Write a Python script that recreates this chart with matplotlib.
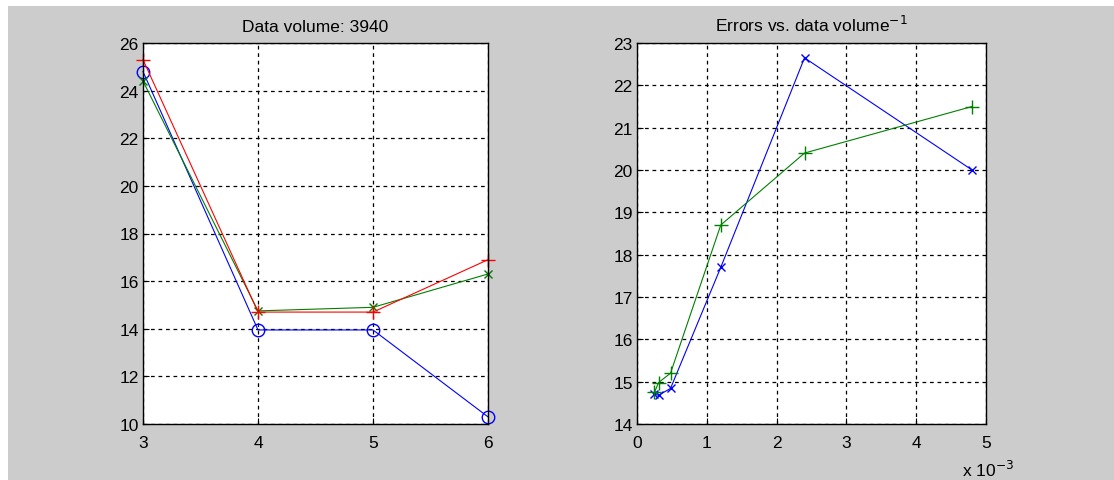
import matplotlib.pyplot as plt
from matplotlib.patches import Rectangle

# left panel: errors vs. model order, data volume 3940
orders = [3, 4, 5, 6]
err_red = [25.3, 14.7, 14.7, 16.9]
err_green = [24.4, 14.75, 14.9, 16.3]
err_blue = [24.8, 13.95, 13.95, 10.3]

# right panel: errors vs. inverse data volume (x 10^-3)
inv_volume = [0.25, 0.31, 0.48, 1.2, 2.4, 4.8]
err_inv_blue = [14.7, 14.68, 14.84, 17.7, 22.65, 20.0]
err_inv_green = [14.75, 14.98, 15.2, 18.7, 20.4, 21.5]

plt.rcParams['font.family'] = ['Liberation Sans', 'DejaVu Sans']

BLUE = (0, 0, 1)
GREEN = (0, 0.5, 0)
RED = (1, 0, 0)
GRAY = (0.8, 0.8, 0.8)

fig = plt.figure(figsize=(11.14, 4.81), dpi=100, facecolor='white')
fig.patches.append(Rectangle((8 / 1114, 0), 1, 1 - 7 / 481, transform=fig.transFigure,
                             facecolor=GRAY, edgecolor='none', zorder=-10))

ax1 = fig.add_axes([143 / 1114, 56 / 481, 345 / 1114, 381 / 481])
ax2 = fig.add_axes([637 / 1114, 56 / 481, 349 / 1114, 381 / 481])


def style(ax):
    ax.set_facecolor('white')
    ax.grid(True, color='black', linestyle=(0, (3, 3)), linewidth=0.9)
    ax.set_axisbelow(True)
    ax.tick_params(direction='in', length=4, width=0.8, labelsize=12.5, pad=3)
    ax.tick_params(axis='x', pad=8)
    for s in ax.spines.values():
        s.set_linewidth(1.0)


ax1.plot(orders, err_blue, color=BLUE, marker='o', markersize=9, markerfacecolor='none',
         linewidth=0.8, clip_on=False)
ax1.plot(orders, err_green, color=GREEN, marker='x', markersize=6, linewidth=0.8, clip_on=False)
ax1.plot(orders, err_red, color=RED, marker='+', markersize=10, linewidth=0.8, clip_on=False)
ax1.set_xlim(3, 6)
ax1.set_ylim(10, 26)
ax1.set_xticks(orders)
ax1.set_yticks(range(10, 27, 2))
ax1.set_title('Data volume: 3940', fontsize=12.5, pad=9)
style(ax1)

ax2.plot(inv_volume, err_inv_blue, color=BLUE, marker='x', markersize=6, linewidth=0.8, clip_on=False)
ax2.plot(inv_volume, err_inv_green, color=GREEN, marker='+', markersize=10, linewidth=0.8, clip_on=False)
ax2.set_xlim(0, 5)
ax2.set_ylim(14, 23)
ax2.set_xticks(range(0, 6))
ax2.set_yticks(range(14, 24))
ax2.set_title('Errors vs. data volume$^{-1}$', fontsize=12.5, pad=9)
style(ax2)

fig.text(962 / 1114, 4 / 481, r'x 10$^{-3}$', fontsize=12.5, ha='left', va='baseline')

fig.savefig('out.png', dpi=100, facecolor=fig.get_facecolor())
